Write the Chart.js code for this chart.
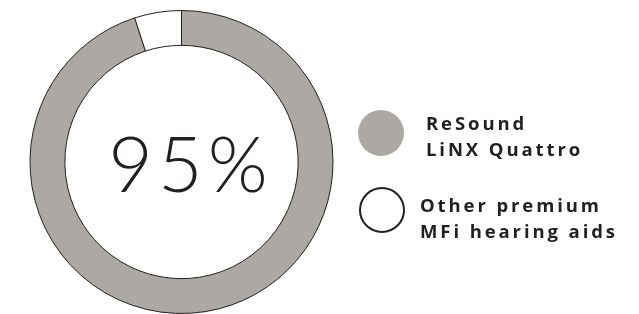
<!DOCTYPE html>
<html>
<head>
<meta charset="utf-8">
<script src="https://cdn.jsdelivr.net/npm/chart.js@4"></script>
<style>
  html,body{margin:0;padding:0;background:#fff;}
  #wrap{position:relative;width:639px;height:314px;}
  #legend{position:absolute;left:0;top:0;width:639px;height:314px;}
  .item{position:absolute;white-space:nowrap;font-family:"Open Sans",sans-serif;font-weight:700;font-size:18.5px;letter-spacing:2.9px;color:#231f20;line-height:26px;}
  .dot{position:absolute;border-radius:50%;box-sizing:border-box;}
</style>
</head>
<body>
<div id="wrap">
  <canvas id="chartPie" width="639" height="314"></canvas>
  <div id="legend"></div>
</div>
<script>
// datos
const labels = [['ReSound','LiNX Quattro'],['Other premium','MFi hearing aids']];
const values = [95,5];
const colores = ['#aca8a4','#ffffff'];
const centerText = '95%';

// texto central
const centroPlugin = {
  id:'centro',
  afterDraw(chart){
    const ctx = chart.ctx;
    const meta = chart.getDatasetMeta(0).data[0];
    ctx.save();
    ctx.font = '300 77px Lato, sans-serif';
    ctx.letterSpacing = '5px';
    ctx.fillStyle = '#231f20';
    ctx.textAlign = 'center';
    ctx.textBaseline = 'alphabetic';
    ctx.fillText(centerText, meta.x + 9, meta.y + 30);
    ctx.restore();
  }
};

new Chart(document.getElementById('chartPie'),{
  type:'doughnut',
  data:{
    labels: labels.map(l=>l.join(' ')),
    datasets:[{data:values,backgroundColor:colores,borderColor:'#231f20',borderWidth:1}]
  },
  options:{
    responsive:false,
    animation:false,
    cutout:'77%',
    layout:{padding:{top:10,bottom:0,left:0,right:276}},
    plugins:{legend:{display:false},tooltip:{enabled:false}}
  },
  plugins:[centroPlugin]
});

// leyenda html
const leg = document.getElementById('legend');
const pos = [{cx:381,cy:133,tx:426,ty:110},{cx:381.5,cy:210,tx:420,ty:192}];
labels.forEach((l,i)=>{
  const p = pos[i];
  const d = document.createElement('div');
  d.className='dot';
  d.style.left=(p.cx-23)+'px'; d.style.top=(p.cy-23)+'px';
  d.style.width='46px'; d.style.height='46px';
  if(i===0){ d.style.background=colores[i]; }
  else { d.style.background='#fff'; d.style.border='2px solid #231f20'; }
  leg.appendChild(d);
  const t = document.createElement('div');
  t.className='item';
  t.style.left=p.tx+'px'; t.style.top=p.ty+'px';
  t.innerHTML = l.join('<br>');
  leg.appendChild(t);
});
</script>
</body>
</html>
